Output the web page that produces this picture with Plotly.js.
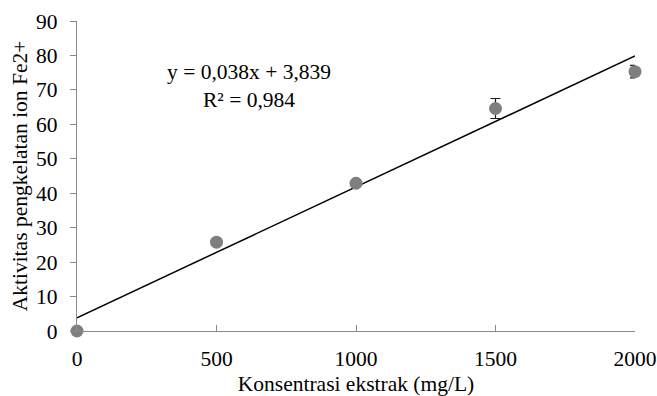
<!DOCTYPE html>
<html><head><meta charset="utf-8">
<script src="https://cdn.plot.ly/plotly-3.0.1.min.js"></script>
<style>html,body{margin:0;padding:0;background:#fff}#c{width:657px;height:396px}</style>
</head><body><div id="c"></div>
<script>
const concentrations = [0, 500, 1000, 1500, 2000];
const activity = [0, 25.8, 42.9, 64.6, 75.3];
const errors = [0, 0, 0, 2.9, 1.8];
const slope = 0.038;
const intercept = 3.839;
const trendX = [0, 2000];
const trendY = trendX.map(x => slope * x + intercept);
const eqText = "y = 0,038x + 3,839<br>R² = 0,984";

const font = "'Times New Roman', 'Liberation Serif', Times, serif";
const f = {family: font, size: 21.5, color: '#000'};
const data = [
  {x: trendX, y: trendY, type: 'scatter', mode: 'lines', line: {color: '#000', width: 1.5}, hoverinfo: 'skip', cliponaxis: false},
  {x: concentrations, y: activity, type: 'scatter', mode: 'markers',
   marker: {color: '#7f7f7f', size: 13},
   error_y: {type: 'data', array: errors, visible: true, color: '#1a1a1a', thickness: 1.2, width: 5},
   cliponaxis: false}
];
const layout = {
  width: 657, height: 396,
  margin: {l: 77, r: 22, t: 21, b: 65},
  paper_bgcolor: '#fff', plot_bgcolor: '#fff',
  showlegend: false,
  font: f,
  xaxis: {range: [0, 2000], tickvals: [0, 500, 1000, 1500, 2000], showgrid: false, zeroline: false,
    showline: true, linecolor: '#898989', linewidth: 1.3, ticks: 'inside', ticklen: 6, tickcolor: '#898989',
    tickfont: f, ticklabelstandoff: 8, ticklabeloverflow: 'allow',
    title: {text: 'Konsentrasi ekstrak (mg/L)', font: f, standoff: 13}},
  yaxis: {range: [0, 90], dtick: 10, showgrid: false, zeroline: false,
    showline: true, linecolor: '#898989', linewidth: 1.3, ticks: 'outside', ticklen: 6, tickcolor: '#898989',
    tickfont: f, ticklabelstandoff: 8, ticklabeloverflow: 'allow',
    title: {text: 'Aktivitas pengkelatan ion Fe2+', font: f, standoff: 2}},
  annotations: [{text: eqText, xref: 'paper', yref: 'paper', x: 0.308, y: 0.789,
    xanchor: 'center', yanchor: 'middle', showarrow: false, align: 'center', font: f}]
};
Plotly.newPlot('c', data, layout, {displayModeBar: false, staticPlot: true});
</script></body></html>
